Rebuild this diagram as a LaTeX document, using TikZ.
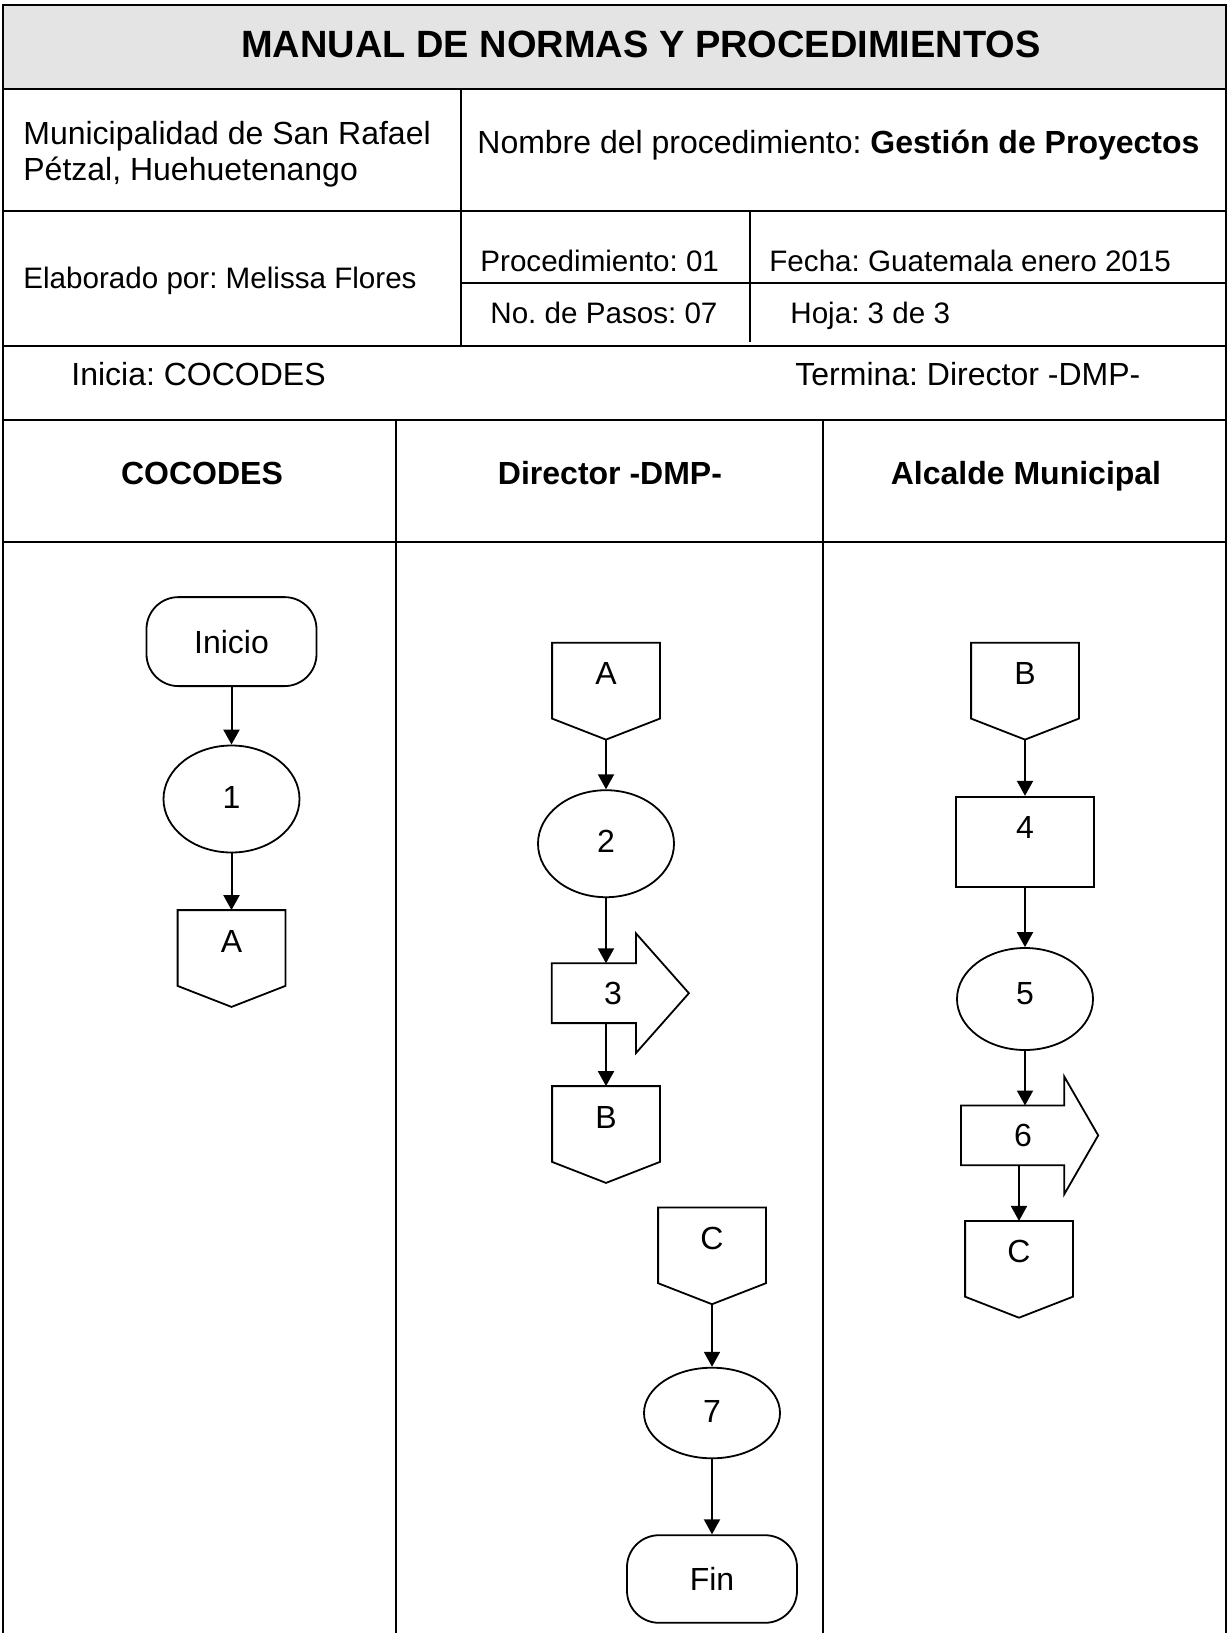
\documentclass[tikz,border=0pt]{standalone}
\usepackage{fontspec}
\setmainfont{Liberation Sans}
\usetikzlibrary{shapes.geometric,arrows.meta,positioning,calc}
\definecolor{banda}{HTML}{E4E4E4}
\frenchspacing

\tikzset{
  linea/.style={line width=1.1pt},
  forma/.style={line width=0.9pt},
  texto/.style={anchor=base west,inner sep=0pt,font=\fontsize{16}{19}\selectfont},
  textochico/.style={anchor=base west,inner sep=0pt,font=\fontsize{14.8}{18}\selectfont},
  carril/.style={anchor=base,inner sep=0pt,font=\bfseries\fontsize{16}{19}\selectfont},
  terminal/.style={draw,forma,rounded corners=16pt,minimum width=85pt,minimum height=44.5pt,font=\fontsize{16}{19}\selectfont},
  paso/.style={draw,forma,ellipse,minimum width=68pt,minimum height=53.5pt,inner sep=0pt,text depth=2pt,font=\fontsize{16}{19}\selectfont},
  caja/.style={draw,forma,rectangle,minimum width=68.8pt,minimum height=45.3pt,text depth=15pt,font=\fontsize{16}{19}\selectfont},
  conector/.style={rectangle,minimum width=53.5pt,minimum height=37.5pt,text depth=7pt,font=\fontsize{16}{19}\selectfont},
  flechabox/.style={rectangle,minimum width=68.2pt,minimum height=29.5pt,font=\fontsize{16}{19}\selectfont},
  flujo/.style={line width=1pt,-{Triangle[length=7.5pt,width=8pt]}},
}

\begin{document}
\begin{tikzpicture}[x=0.5pt,y=-0.5pt]
\useasboundingbox (0,0) rectangle (1228,1633);

% encabezado
\fill[banda] (3,5) rectangle (1226,89);
\draw[linea] (3,1633) -- (3,5) -- (1226,5) -- (1226,1633);
\foreach \y in {89,211,346,420,542}
  \draw[linea] (3,\y) -- (1226,\y);
\draw[linea] (461,283) -- (1226,283);
\draw[linea] (461,89) -- (461,346);
\draw[linea] (750,211) -- (750,342);
\draw[linea] (396,420) -- (396,1633);
\draw[linea] (823,420) -- (823,1633);

\node[anchor=base,inner sep=0pt,font=\bfseries\fontsize{19}{22}\selectfont] (titulo) at (641,57) {MANUAL DE NORMAS Y PROCEDIMIENTOS};
\node[texto] (muni1) at (23,144) {Municipalidad de San Rafael};
\node[texto] (muni2) at (23,180) {Pétzal, Huehuetenango};
\node[texto] (nombre) at (477,153) {Nombre del procedimiento: \textbf{Gestión de Proyectos}};
\node[textochico] (elaborado) at (23,288) {Elaborado por: Melissa Flores};
\node[textochico] (proc) at (480,271) {Procedimiento: 01};
\node[textochico] (fecha) at (769,271) {Fecha: Guatemala enero 2015};
\node[textochico] (pasos) at (490,323) {No. de Pasos: 07};
\node[textochico] (hoja) at (790,323) {Hoja: 3 de 3};
\node[texto] (inicia) at (71,385) {Inicia: COCODES};
\node[texto] (termina) at (795,385) {Termina: Director -DMP-};
\node[carril] (cocodes) at (202,484) {COCODES};
\node[carril] (director) at (610,484) {Director -DMP-};
\node[carril] (alcalde) at (1026,484) {Alcalde Municipal};

% COCODES
\node[terminal] (cI) at (231.5,641.6) {Inicio};
\node[paso] (c1) at (231.5,799) {1};
\node[conector] (cA) at (231.5,948) {A};

% Director -DMP-
\node[conector] (dA) at (606,680.7) {A};
\node[paso] (d2) at (606,843.7) {2};
\node[flechabox] (d3) at (613,993.2) {3};
\node[conector] (dB) at (606,1124) {B};
\node[conector] (dC) at (712,1245.3) {C};
\node[paso,minimum height=45.3pt] (d7) at (712,1413) {7};
\node[terminal,minimum height=43.8pt] (dF) at (712,1579) {Fin};

% Alcalde Municipal
\node[conector] (aB) at (1025,680.7) {B};
\node[caja] (a4) at (1025,842) {4};
\node[paso,minimum height=51pt,text depth=6pt] (a5) at (1025,999) {5};
\node[flechabox] (a6) at (1023,1135.4) {6};
\node[conector] (aC) at (1019,1258.8) {C};

% conectores fuera de pagina
\foreach \n in {cA,dA,dB,dC,aB,aC}
  \draw[forma] (\n.north west) -- (\n.north east) -- (\n.south east)
    -- ($(\n.south)+(0,21)$) coordinate (\n-tip) -- (\n.south west) -- cycle;

% flechas de envio
\foreach \n/\h/\e/\c in {d3/53/30/7.3,a6/34/29/6.6}
  \draw[forma] ($(\n.north west)+(\c,0)$) -- ($(\n.north east)+(\c-\h,0)$) -- ++(0,-\e)
    -- ($(\n.east)+(\c,0)$) -- ($(\n.south east)+(\c-\h,\e)$) -- ++(0,-\e)
    -- ($(\n.south west)+(\c,0)$) -- cycle;

\draw[flujo] (cI) -- (c1);
\draw[flujo] (c1) -- (cA);
\draw[flujo] (dA-tip) -- (d2);
\draw[flujo] (d2) -- (d2 |- d3.north);
\draw[flujo] (d3.south -| dB) -- (dB);
\draw[flujo] (dC-tip) -- (d7);
\draw[flujo] (d7) -- (dF);
\draw[flujo] (aB-tip) -- (a4);
\draw[flujo] (a4) -- (a5);
\draw[flujo] (a5) -- (a5 |- a6.north);
\draw[flujo] (a6.south -| aC) -- (aC);
\end{tikzpicture}
\end{document}
